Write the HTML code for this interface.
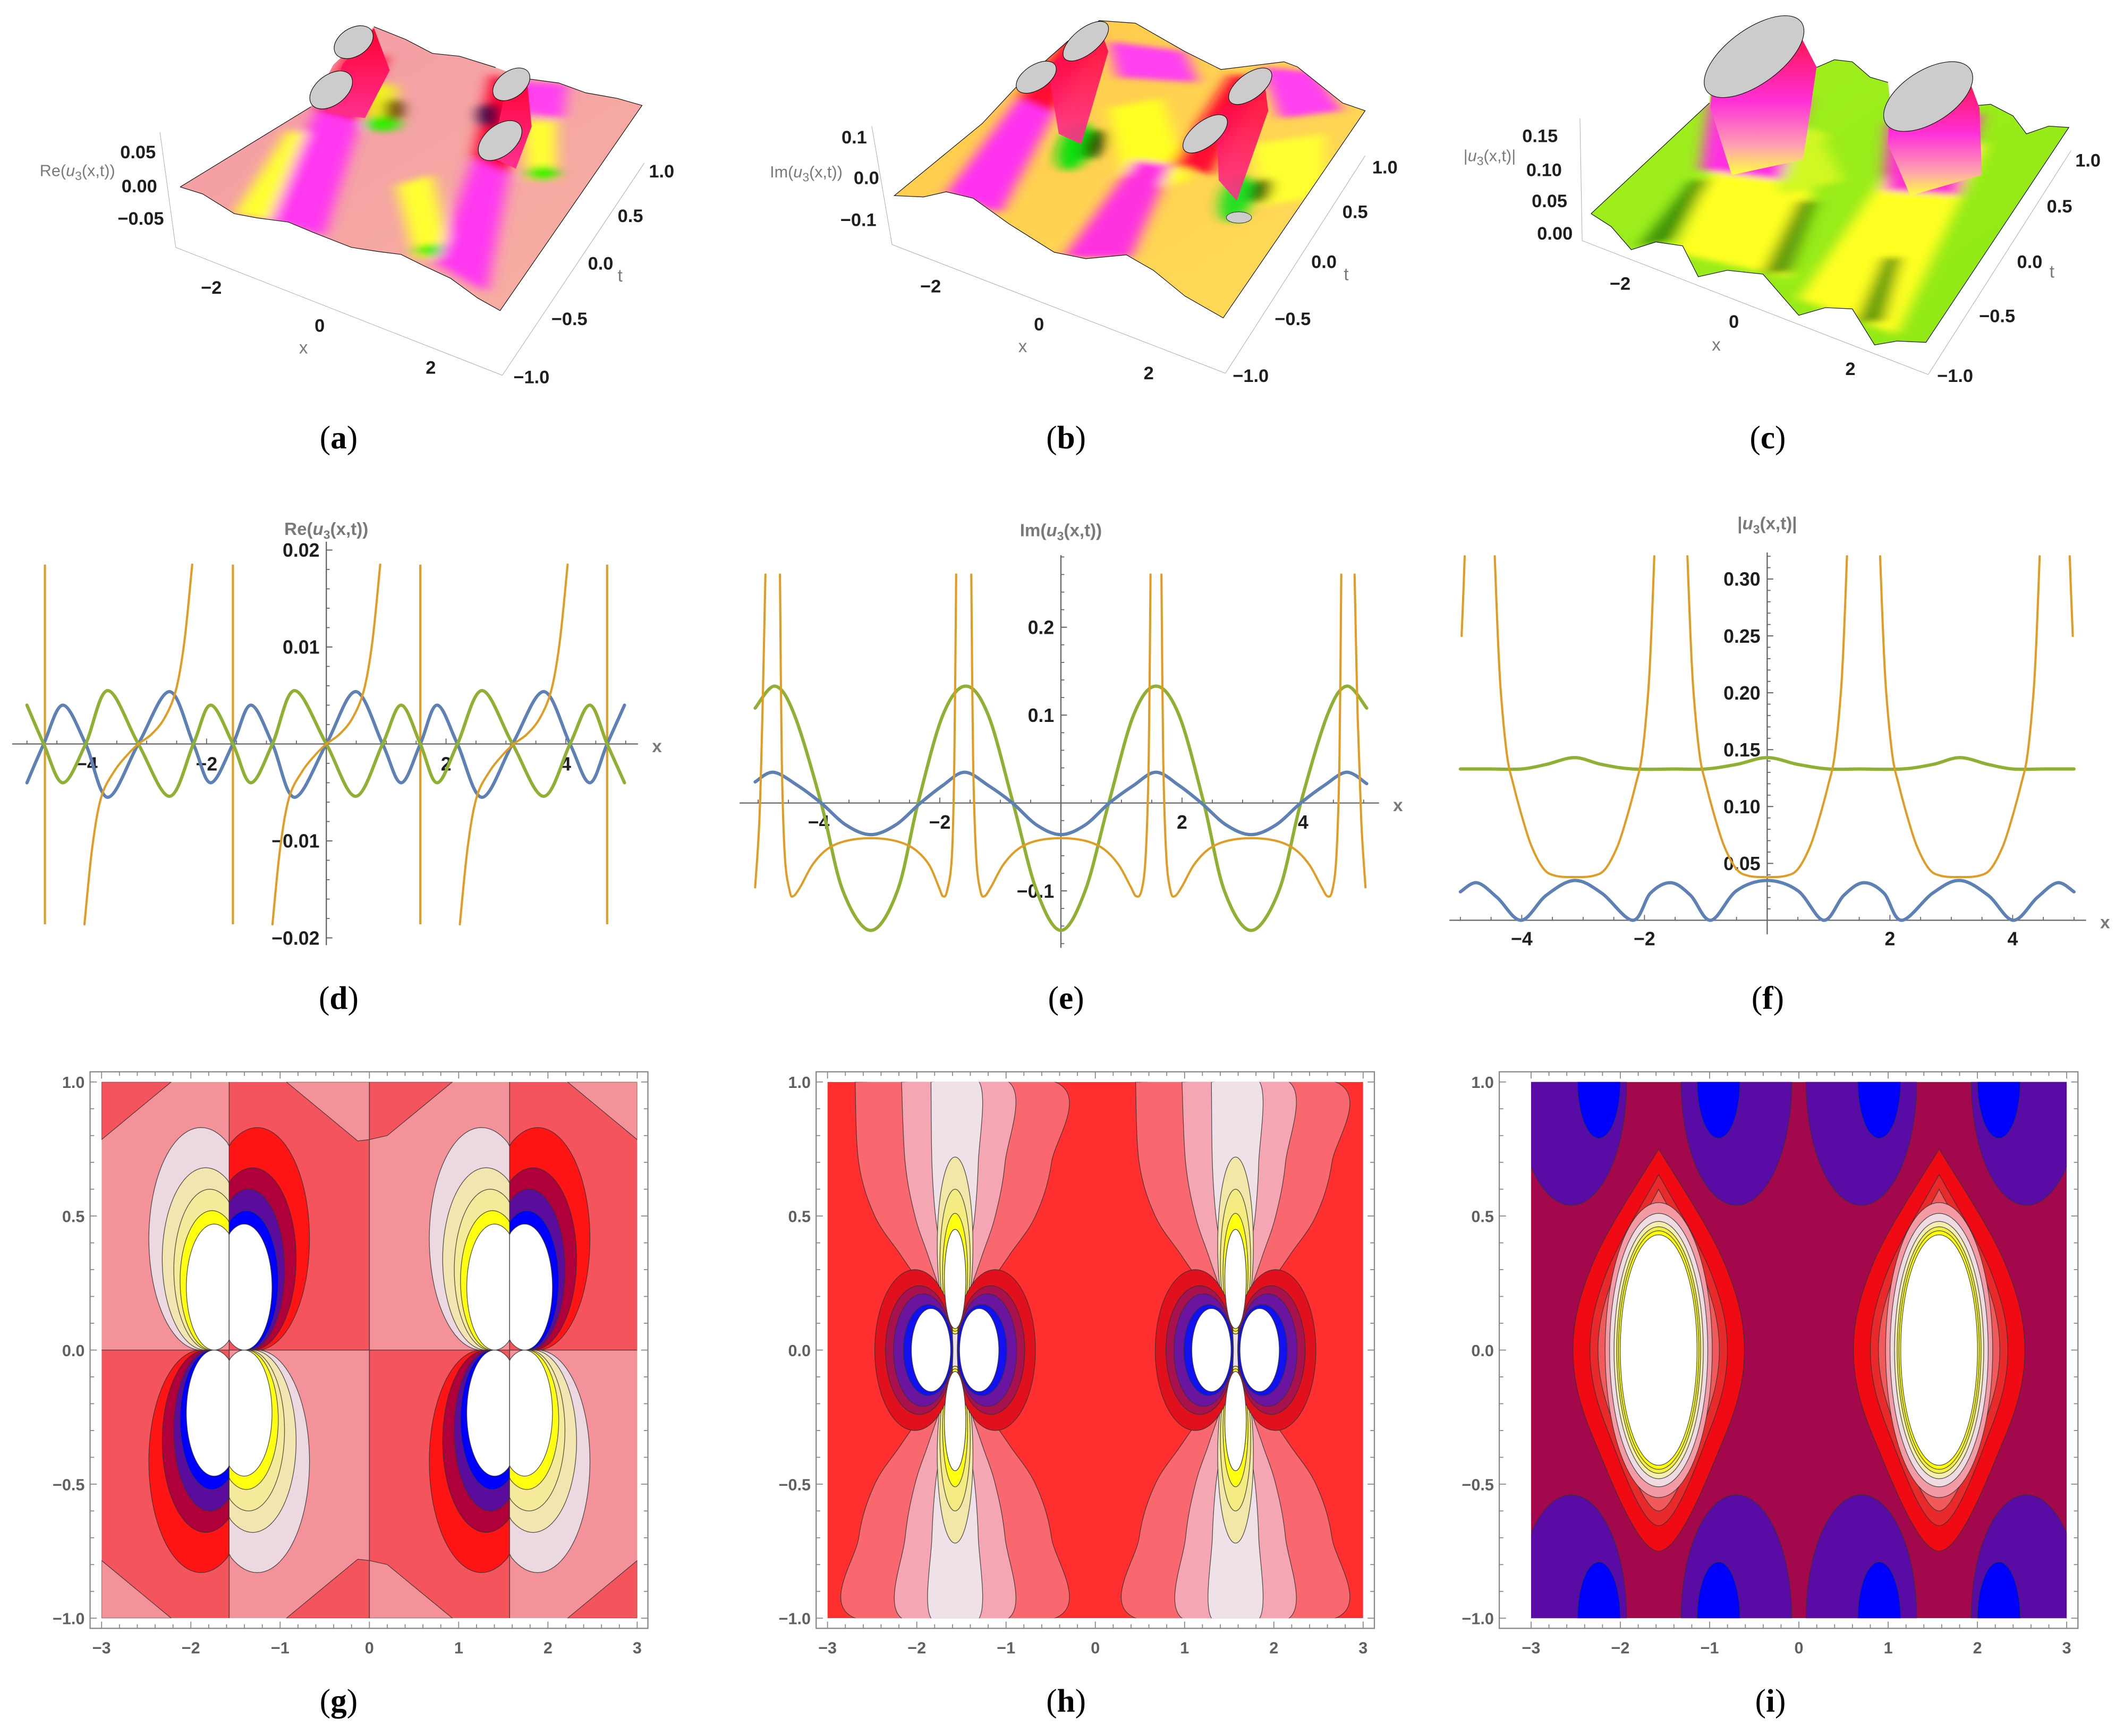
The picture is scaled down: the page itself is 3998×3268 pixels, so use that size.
<!DOCTYPE html>
<html><head><meta charset="utf-8"><title>u3 figure panels</title>
<style>
html,body{margin:0;padding:0;background:#fff;}
svg{display:block;}
text{font-family:"Liberation Sans",sans-serif;}
.lab{font-family:"Liberation Serif",serif;font-size:24px;}
.tk{font-size:14px;font-weight:bold;fill:#1e1e1e;}
.tk3{font-size:13.5px;font-weight:bold;fill:#1e1e1e;}
.ttl{font-size:13px;font-weight:bold;fill:#7a7a7a;}
.ctk{font-size:12px;font-weight:bold;fill:#606060;}
</style></head>
<body>
<svg id="fig" xmlns="http://www.w3.org/2000/svg" width="3998" height="3268" viewBox="0 0 1568 1282" preserveAspectRatio="none">
<rect x="0" y="0" width="1568" height="1282" fill="#ffffff"/>
<defs>
 <filter id="blur3d" x="-50%" y="-50%" width="200%" height="200%"><feGaussianBlur stdDeviation="16 11"/></filter>
 <clipPath id="clipA"><polygon points="400,665 450,690 520,760 570,775 640,790 700,830 780,880 840,895 890,905 940,945 1000,990 1060,1060 1110,1105 1425,375 1370,350 1300,330 1240,295 1170,280 1100,240 1020,200 960,190 900,140 830,95 740,230 690,380"/></clipPath>
 <clipPath id="clipB"><polygon points="405,760 470,765 520,745 580,770 660,870 760,980 830,1005 920,990 980,1050 1050,1150 1135,1235 1450,430 1400,400 1300,260 1270,240 1200,255 1130,270 1050,200 940,90 860,80 790,160 680,330 600,480"/></clipPath>
 <clipPath id="clipC"><polygon points="375,830 420,880 465,970 520,940 580,955 615,1075 680,1050 760,1065 840,1225 900,1195 960,1200 1010,1340 1060,1325 1125,1330 1445,495 1400,490 1350,520 1320,450 1270,405 1240,410 1215,450 1050,480 1040,320 1000,300 960,240 920,232 880,262 835,120 645,300 640,400"/></clipPath>
 <linearGradient id="gradA" x1="0" y1="0" x2="1" y2="1"><stop offset="0" stop-color="#f39aa6"/><stop offset="1" stop-color="#f7b0a0"/></linearGradient>
 <linearGradient id="gradB" x1="0" y1="0" x2="1" y2="1"><stop offset="0" stop-color="#ffc84a"/><stop offset="1" stop-color="#ffdc5a"/></linearGradient>
 <linearGradient id="gradC" x1="0" y1="0" x2="1" y2="1"><stop offset="0" stop-color="#a4f020"/><stop offset="1" stop-color="#8fe814"/></linearGradient>
 <linearGradient id="cylC" x1="0" y1="0" x2="0" y2="1"><stop offset="0" stop-color="#ff1040"/><stop offset="0.5" stop-color="#ff30d8"/><stop offset="0.8" stop-color="#ffa0b0"/><stop offset="1" stop-color="#ffff40"/></linearGradient>
 <linearGradient id="cylR" x1="0" y1="0" x2="0" y2="1"><stop offset="0" stop-color="#ff0030"/><stop offset="1" stop-color="#ff3090"/></linearGradient>
</defs>

<!-- Panel a -->
<g transform="translate(0,0) scale(0.3326,0.2076)">
 <g stroke="#aaaaaa" fill="none">
  <line x1="355" y1="470" x2="390" y2="880" vector-effect="non-scaling-stroke"/>
  <line x1="390" y1="880" x2="1115" y2="1335" vector-effect="non-scaling-stroke"/>
  <line x1="1115" y1="1335" x2="1430" y2="580" vector-effect="non-scaling-stroke"/>
 </g>
 <polygon points="400,665 450,690 520,760 570,775 640,790 700,830 780,880 840,895 890,905 940,945 1000,990 1060,1060 1110,1105 1425,375 1370,350 1300,330 1240,295 1170,280 1100,240 1020,200 960,190 900,140 830,95 740,230 690,380" fill="url(#gradA)"/>
 <g clip-path="url(#clipA)"><g filter="url(#blur3d)">
  <polygon points="520,760 600,785 690,480 640,460" fill="#ffff30"/>
  <polygon points="600,785 720,840 800,430 700,390" fill="#ff38f0"/>
  <polygon points="700,390 800,430 860,200 770,190" fill="#ff0030"/>
  <polygon points="810,300 880,300 880,450 820,450" fill="#f0f020"/>
  <ellipse cx="850" cy="440" rx="40" ry="28" fill="#30f000"/>
  <ellipse cx="875" cy="390" rx="20" ry="40" fill="#604000"/>
  <polygon points="880,660 960,620 1000,910 920,920" fill="#ffff30"/>
  <ellipse cx="960" cy="890" rx="40" ry="22" fill="#40f000"/>
  <polygon points="970,940 1080,1040 1130,620 1050,560" fill="#ff38f0"/>
  <polygon points="1050,560 1130,620 1160,310 1090,260" fill="#ff0030"/>
  <ellipse cx="1085" cy="410" rx="25" ry="45" fill="#400040"/>
  <polygon points="1160,430 1235,430 1235,640 1170,640" fill="#ffff30"/>
  <ellipse cx="1205" cy="615" rx="35" ry="25" fill="#30f000"/>
  <polygon points="1150,290 1260,300 1250,420 1160,400" fill="#ff40f0"/>
 </g></g>
 <polygon points="760,230 830,100 865,250 810,420 725,400" fill="url(#cylR)"/>
 <polygon points="1130,265 1170,290 1180,450 1145,600 1090,560" fill="url(#cylR)"/>
 <polyline points="400,665 450,690 520,760 570,775 640,790 700,830 780,880 840,895 890,905 940,945 1000,990 1060,1060 1110,1105 1425,375 1370,350 1300,330 1240,295 1170,280" fill="none" stroke="#111" stroke-width="1.2" vector-effect="non-scaling-stroke"/>
 <polyline points="1100,240 1020,200 960,190 900,140 830,95" fill="none" stroke="#111" stroke-width="1.2" vector-effect="non-scaling-stroke"/>
 <line x1="400" y1="665" x2="690" y2="380" stroke="#111" stroke-width="1.2" vector-effect="non-scaling-stroke"/>
 <g fill="#cccccc" stroke="#111">
  <ellipse cx="785" cy="150" rx="38" ry="62" transform="rotate(25 785 150)" vector-effect="non-scaling-stroke" stroke-width="1.2"/>
  <ellipse cx="735" cy="320" rx="40" ry="72" transform="rotate(25 735 320)" vector-effect="non-scaling-stroke" stroke-width="1.2"/>
  <ellipse cx="1135" cy="300" rx="35" ry="62" transform="rotate(25 1135 300)" vector-effect="non-scaling-stroke" stroke-width="1.2"/>
  <ellipse cx="1110" cy="500" rx="40" ry="76" transform="rotate(25 1110 500)" vector-effect="non-scaling-stroke" stroke-width="1.2"/>
 </g>
</g>
<g>
 <text class="tk3" x="115" y="117" text-anchor="end">0.05</text>
 <text class="tk3" x="116" y="142" text-anchor="end">0.00</text>
 <text class="tk3" x="121" y="166" text-anchor="end">−0.05</text>
 <text class="ttl" x="85" y="130" text-anchor="end" style="font-weight:normal;font-size:12px">Re(<tspan font-style="italic">u</tspan><tspan font-size="9" dy="3">3</tspan><tspan dy="-3">(x,t))</tspan></text>
 <text class="tk3" x="156" y="217" text-anchor="middle">−2</text>
 <text class="tk3" x="236" y="245" text-anchor="middle">0</text>
 <text class="tk3" x="318" y="276" text-anchor="middle">2</text>
 <text class="ttl" x="224" y="261" text-anchor="middle" style="font-weight:normal">x</text>
 <text class="tk3" x="479" y="131">1.0</text>
 <text class="tk3" x="456" y="164">0.5</text>
 <text class="tk3" x="434" y="199">0.0</text>
 <text class="ttl" x="456" y="208" style="font-weight:normal">t</text>
 <text class="tk3" x="407" y="240">−0.5</text>
 <text class="tk3" x="379" y="283">−1.0</text>
</g>

<!-- Panel b -->
<g transform="translate(525.5,0) scale(0.3326,0.1901)">
 <g stroke="#aaaaaa" fill="none">
  <line x1="355" y1="490" x2="400" y2="950" vector-effect="non-scaling-stroke"/>
  <line x1="400" y1="950" x2="1140" y2="1450" vector-effect="non-scaling-stroke"/>
  <line x1="1140" y1="1450" x2="1450" y2="605" vector-effect="non-scaling-stroke"/>
 </g>
 <polygon points="405,760 470,765 520,745 580,770 660,870 760,980 830,1005 920,990 980,1050 1050,1150 1135,1235 1450,430 1400,400 1300,260 1270,240 1200,255 1130,270 1050,200 940,90 860,80 790,160 680,330 600,480" fill="url(#gradB)"/>
 <g clip-path="url(#clipB)"><g filter="url(#blur3d)">
  <polygon points="520,750 640,830 760,440 680,380" fill="#ff30f0"/>
  <polygon points="680,380 760,440 860,120 790,130" fill="#ff1030"/>
  <polygon points="880,160 1050,200 1080,320 900,300" fill="#ff40f0"/>
  <polygon points="880,420 1000,380 1060,700 920,760" fill="#ffff20"/>
  <polygon points="780,1000 930,1000 1020,640 940,620" fill="#ff30e0"/>
  <polygon points="1020,640 1110,680 1220,300 1150,290" fill="#ff1030"/>
  <polygon points="1220,260 1340,280 1400,430 1260,460" fill="#ff40f0"/>
  <polygon points="1200,560 1360,520 1360,760 1220,800" fill="#ffff30"/>
  <ellipse cx="805" cy="570" rx="95" ry="36" fill="#10e010" transform="rotate(-80 805 570)"/>
  <ellipse cx="850" cy="560" rx="60" ry="20" fill="#204000" transform="rotate(-80 850 560)"/>
  <ellipse cx="1165" cy="770" rx="95" ry="36" fill="#20e020" transform="rotate(-80 1165 770)"/>
  <ellipse cx="1220" cy="740" rx="50" ry="20" fill="#205000" transform="rotate(-80 1220 740)"/>
 </g></g>
 <polygon points="745,260 860,100 880,200 820,560 770,520" fill="url(#cylR)" opacity="0.9"/>
 <polygon points="1120,440 1225,300 1235,430 1165,780 1125,700" fill="url(#cylR)" opacity="0.9"/>
 <polygon points="405,760 470,765 520,745 580,770 660,870 760,980 830,1005 920,990 980,1050 1050,1150 1135,1235 1450,430 1400,400 1300,260 1270,240 1200,255 1130,270 1050,200 940,90 860,80 790,160 680,330 600,480" fill="none" stroke="#111" stroke-width="1.2" vector-effect="non-scaling-stroke"/>
 <g fill="#cccccc" stroke="#111">
  <ellipse cx="830" cy="160" rx="35" ry="85" transform="rotate(28 830 160)" vector-effect="non-scaling-stroke" stroke-width="1.2"/>
  <ellipse cx="720" cy="300" rx="35" ry="68" transform="rotate(28 720 300)" vector-effect="non-scaling-stroke" stroke-width="1.2"/>
  <ellipse cx="1195" cy="335" rx="35" ry="78" transform="rotate(28 1195 335)" vector-effect="non-scaling-stroke" stroke-width="1.2"/>
  <ellipse cx="1095" cy="520" rx="35" ry="82" transform="rotate(28 1095 520)" vector-effect="non-scaling-stroke" stroke-width="1.2"/>
  <ellipse cx="1170" cy="845" rx="28" ry="22" vector-effect="non-scaling-stroke" stroke-width="0.8"/>
 </g>
</g>
<g>
 <text class="tk3" x="640" y="106" text-anchor="end">0.1</text>
 <text class="tk3" x="649" y="136" text-anchor="end">0.0</text>
 <text class="tk3" x="647" y="167" text-anchor="end">−0.1</text>
 <text class="ttl" x="622" y="131" text-anchor="end" style="font-weight:normal;font-size:12px">Im(<tspan font-style="italic">u</tspan><tspan font-size="9" dy="3">3</tspan><tspan dy="-3">(x,t))</tspan></text>
 <text class="tk3" x="687" y="216" text-anchor="middle">−2</text>
 <text class="tk3" x="767" y="244" text-anchor="middle">0</text>
 <text class="tk3" x="848" y="280" text-anchor="middle">2</text>
 <text class="ttl" x="755" y="260" text-anchor="middle" style="font-weight:normal">x</text>
 <text class="tk3" x="1013" y="128">1.0</text>
 <text class="tk3" x="991" y="161">0.5</text>
 <text class="tk3" x="968" y="198">0.0</text>
 <text class="ttl" x="992" y="207" style="font-weight:normal">t</text>
 <text class="tk3" x="941" y="240">−0.5</text>
 <text class="tk3" x="910" y="282">−1.0</text>
</g>

<!-- Panel c -->
<g transform="translate(1051,0) scale(0.3296,0.1901)">
 <g stroke="#aaaaaa" fill="none">
  <line x1="350" y1="460" x2="355" y2="935" vector-effect="non-scaling-stroke"/>
  <line x1="355" y1="935" x2="1130" y2="1455" vector-effect="non-scaling-stroke"/>
  <line x1="1130" y1="1455" x2="1450" y2="585" vector-effect="non-scaling-stroke"/>
 </g>
 <polygon points="375,830 420,880 465,970 520,940 580,955 615,1075 680,1050 760,1065 840,1225 900,1195 960,1200 1010,1340 1060,1325 1125,1330 1445,495 1400,490 1350,520 1320,450 1270,405 1240,410 1215,450 1050,480 1040,320 1000,300 960,240 920,232 880,262 835,120 645,300 640,400" fill="url(#gradC)"/>
 <g clip-path="url(#clipC)"><g filter="url(#blur3d)">
  <polygon points="560,980 820,1080 900,520 700,460" fill="#ffff20"/>
  <polygon points="840,1160 1060,1300 1260,560 1080,560" fill="#ffff20"/>
  <polygon points="760,520 880,500 940,700 800,760" fill="#d0f820"/>
  <polygon points="640,400 860,380 800,700 620,660" fill="#ff30e0"/>
  <polygon points="1040,480 1250,440 1200,760 1030,740" fill="#ff30d0"/>
  <polygon points="480,960 560,930 640,700 600,700" fill="#207000" opacity="0.7"/>
  <polygon points="760,1060 820,1060 880,780 840,780" fill="#207000" opacity="0.7"/>
  <polygon points="970,1250 1030,1250 1070,1000 1030,1000" fill="#207000" opacity="0.7"/>
 </g></g>
 <polyline points="375,830 420,880 465,970 520,940 580,955 615,1075 680,1050 760,1065 840,1225 900,1195 960,1200 1010,1340 1060,1325 1125,1330 1445,495 1400,490 1350,520 1320,450 1270,405 1240,410 1215,450" fill="none" stroke="#111" stroke-width="1.2" vector-effect="non-scaling-stroke"/>
 <polyline points="1040,320 1000,300 960,240 920,232 880,262" fill="none" stroke="#111" stroke-width="1.2" vector-effect="non-scaling-stroke"/>
 <line x1="375" y1="830" x2="640" y2="400" stroke="#111" stroke-width="1.2" vector-effect="non-scaling-stroke"/>
 <polygon points="648,300 642,420 690,680 850,620 880,260 835,110" fill="url(#cylC)"/>
 <polygon points="1043,430 1040,560 1090,760 1250,680 1245,420 1215,280" fill="url(#cylC)"/>
 <g fill="#cccccc" stroke="#111">
  <ellipse cx="740" cy="220" rx="78" ry="178" transform="rotate(30 740 220)" vector-effect="non-scaling-stroke" stroke-width="1.2"/>
  <ellipse cx="1130" cy="375" rx="76" ry="150" transform="rotate(30 1130 375)" vector-effect="non-scaling-stroke" stroke-width="1.2"/>
 </g>
</g>
<g>
 <text class="tk3" x="1150" y="105" text-anchor="end">0.15</text>
 <text class="tk3" x="1153" y="130" text-anchor="end">0.10</text>
 <text class="tk3" x="1157" y="153" text-anchor="end">0.05</text>
 <text class="tk3" x="1161" y="177" text-anchor="end">0.00</text>
 <text class="ttl" x="1119" y="119" text-anchor="end" style="font-weight:normal;font-size:12px">|<tspan font-style="italic">u</tspan><tspan font-size="9" dy="3">3</tspan><tspan dy="-3">(x,t)|</tspan></text>
 <text class="tk3" x="1196" y="214" text-anchor="middle">−2</text>
 <text class="tk3" x="1280" y="242" text-anchor="middle">0</text>
 <text class="tk3" x="1366" y="277" text-anchor="middle">2</text>
 <text class="ttl" x="1267" y="259" text-anchor="middle" style="font-weight:normal">x</text>
 <text class="tk3" x="1532" y="123">1.0</text>
 <text class="tk3" x="1511" y="157">0.5</text>
 <text class="tk3" x="1489" y="198">0.0</text>
 <text class="ttl" x="1513" y="205" style="font-weight:normal">t</text>
 <text class="tk3" x="1461" y="238">−0.5</text>
 <text class="tk3" x="1430" y="282">−1.0</text>
</g>

<!-- panel captions -->
<g>
 <text class="lab" x="250" y="331" text-anchor="middle">(<tspan font-weight="bold">a</tspan>)</text>
 <text class="lab" x="787" y="331" text-anchor="middle">(<tspan font-weight="bold">b</tspan>)</text>
 <text class="lab" x="1305" y="331" text-anchor="middle">(<tspan font-weight="bold">c</tspan>)</text>
 <text class="lab" x="250" y="745" text-anchor="middle">(<tspan font-weight="bold">d</tspan>)</text>
 <text class="lab" x="787" y="745" text-anchor="middle">(<tspan font-weight="bold">e</tspan>)</text>
 <text class="lab" x="1305" y="745" text-anchor="middle">(<tspan font-weight="bold">f</tspan>)</text>
 <text class="lab" x="250" y="1264" text-anchor="middle">(<tspan font-weight="bold">g</tspan>)</text>
 <text class="lab" x="787" y="1264" text-anchor="middle">(<tspan font-weight="bold">h</tspan>)</text>
 <text class="lab" x="1307" y="1264" text-anchor="middle">(<tspan font-weight="bold">i</tspan>)</text>
</g>
</svg>

<script>
// ===== Panel d data: Re(u3) =====
const dBlueX = [-5.0,-4.72,-4.4,-4.02,-3.65,-3.14,-2.62,-2.22,-1.93,-1.56,-1.26,-0.9,-0.53,0,0.49,0.94,1.25,1.57,1.85,2.19,2.6,3.11,3.63,4.07,4.4,4.69,4.98];
const dBlueY = [-0.004,0,0.004,0,-0.0055,0,0.0054,0,-0.004,0,0.004,0,-0.0055,0,0.0054,0,-0.004,0,0.004,0,-0.0055,0,0.0054,0,-0.004,0,0.004];
const dGreenX = [-5.0,-4.72,-4.4,-4.02,-3.65,-3.14,-2.62,-2.22,-1.93,-1.56,-1.26,-0.9,-0.53,0,0.49,0.94,1.25,1.57,1.85,2.19,2.6,3.11,3.63,4.07,4.4,4.69,4.98];
const dGreenY = [0.004,0,-0.004,0,0.0055,0,-0.0054,0,0.004,0,-0.004,0,0.0055,0,-0.0054,0,0.004,0,-0.004,0,0.0055,0,-0.0054,0,0.004,0,-0.004];
const dOrangeX = [-4.04,-3.91,-3.76,-3.54,-3.32,-3.14,-2.92,-2.7,-2.51,-2.37,-2.24,null,
                  -0.9,-0.77,-0.62,-0.4,-0.18,0,0.22,0.44,0.63,0.77,0.9,null,
                  2.23,2.36,2.51,2.73,2.95,3.13,3.35,3.57,3.76,3.9,4.03];
const dOrangeY = [-0.0186,-0.0107,-0.0055,-0.0028,-0.0011,0,0.001,0.0027,0.0056,0.0106,0.0185,null,
                  -0.0186,-0.0107,-0.0055,-0.0028,-0.0011,0,0.001,0.0027,0.0056,0.0106,0.0185,null,
                  -0.0186,-0.0107,-0.0055,-0.0028,-0.0011,0,0.001,0.0027,0.0056,0.0106,0.0185];
const dPoleX = [-4.7,-1.56,1.57,4.69];
const dPoleTop = 0.0185, dPoleBottom = -0.0186;
const dXTicks = [-4,-2,2,4];
const dXTickLabels = ['−4','−2','2','4'];
const dYTicks = [-0.02,-0.01,0.01,0.02];
const dYTickLabels = ['−0.02','−0.01','0.01','0.02'];

// ===== Panel e data: Im(u3) =====
const eBlueX = [-5.05,-4.75,-4.35,-3.96,-3.55,-3.14,-2.73,-2.32,-1.95,-1.59,-1.2,-0.8,-0.4,0,0.4,0.8,1.2,1.57,1.95,2.32,2.73,3.14,3.55,3.96,4.35,4.72,5.05];
const eBlueY = [0.024,0.035,0.02,0,-0.025,-0.036,-0.025,0,0.02,0.035,0.02,0,-0.025,-0.036,-0.025,0,0.02,0.035,0.02,0,-0.025,-0.036,-0.025,0,0.02,0.035,0.022];
const eGreenX = [-5.05,-4.72,-4.4,-3.96,-3.6,-3.14,-2.7,-2.36,-1.95,-1.57,-1.2,-0.79,-0.4,0,0.4,0.79,1.2,1.57,1.95,2.36,2.7,3.14,3.6,3.96,4.4,4.72,5.05];
const eGreenY = [0.108,0.133,0.1,0,-0.1,-0.145,-0.1,0,0.1,0.133,0.1,0,-0.1,-0.145,-0.1,0,0.1,0.133,0.1,0,-0.1,-0.145,-0.1,0,0.1,0.133,0.108];
const eOrangeX = [-5.05,-4.98,-4.93,-4.88,null,
  -4.64,-4.61,-4.56,-4.48,-4.42,-4.3,-4.1,-3.85,-3.54,-3.14,-2.74,-2.43,-2.18,-2.02,-1.95,-1.88,-1.8,-1.76,-1.73,null,
  -1.48,-1.45,-1.40,-1.33,-1.26,-1.15,-0.95,-0.7,-0.4,0,0.4,0.7,0.95,1.15,1.24,1.33,1.40,1.45,1.48,null,
  1.66,1.69,1.74,1.81,1.88,2.0,2.2,2.45,2.75,3.14,3.55,3.85,4.1,4.3,4.4,4.48,4.55,4.6,4.63,null,
  4.85,4.9,4.96,5.03];
const eOrangeY = [-0.096,-0.02,0.1,0.26,null,
  0.26,0.05,-0.06,-0.1,-0.106,-0.095,-0.07,-0.052,-0.043,-0.040,-0.043,-0.052,-0.07,-0.095,-0.106,-0.1,-0.06,0.05,0.26,null,
  0.26,0.05,-0.06,-0.1,-0.106,-0.095,-0.07,-0.052,-0.043,-0.040,-0.043,-0.052,-0.07,-0.095,-0.106,-0.1,-0.06,0.05,0.26,null,
  0.26,0.05,-0.06,-0.1,-0.106,-0.095,-0.07,-0.052,-0.043,-0.040,-0.043,-0.052,-0.07,-0.095,-0.106,-0.1,-0.06,0.05,0.26,null,
  0.26,0.1,-0.02,-0.096];
const eXTicks = [-4,-2,2,4];
const eXTickLabels = ['−4','−2','2','4'];
const eYTicks = [-0.1,0.1,0.2];
const eYTickLabels = ['−0.1','0.1','0.2'];

// ===== Panel f data: |u3| =====
const fBlueX = [-5,-4.73,-4.4,-4.01,-3.6,-3.14,-2.7,-2.19,-1.9,-1.57,-1.25,-0.92,-0.5,0,0.5,0.92,1.25,1.57,1.9,2.19,2.7,3.14,3.6,4.01,4.4,4.73,5];
const fBlueY = [0.025,0.033,0.02,0,0.022,0.035,0.024,0,0.024,0.033,0.022,0,0.026,0.035,0.026,0,0.022,0.033,0.024,0,0.024,0.035,0.022,0,0.02,0.033,0.025];
const fGreenX = [-5,-4.5,-4,-3.6,-3.14,-2.7,-2.2,-1.5,-1,-0.5,0,0.5,1,1.5,2.2,2.7,3.14,3.6,4,4.5,5];
const fGreenY = [0.133,0.133,0.133,0.137,0.143,0.137,0.133,0.133,0.133,0.137,0.143,0.137,0.133,0.133,0.133,0.137,0.143,0.137,0.133,0.133,0.133];
const fOrangeX = [-4.98,-4.95,-4.93,null,
  -4.44,-4.39,-4.34,-4.24,-4.14,-3.99,-3.84,-3.64,-3.44,-3.14,-2.84,-2.64,-2.44,-2.29,-2.14,-2.04,-1.94,-1.89,-1.84,null,
  -1.3,-1.25,-1.2,-1.1,-1.0,-0.85,-0.7,-0.5,-0.3,0,0.3,0.5,0.7,0.85,1.0,1.1,1.2,1.25,1.3,null,
  1.84,1.89,1.94,2.04,2.14,2.29,2.44,2.64,2.84,3.14,3.44,3.64,3.84,3.99,4.14,4.24,4.34,4.39,4.44,null,
  4.93,4.95,4.98];
const fOrangeY = [0.25,0.29,0.32,null,
  0.32,0.25,0.2,0.145,0.12,0.09,0.065,0.045,0.039,0.038,0.039,0.045,0.065,0.09,0.12,0.145,0.2,0.25,0.32,null,
  0.32,0.25,0.2,0.145,0.12,0.09,0.065,0.045,0.039,0.038,0.039,0.045,0.065,0.09,0.12,0.145,0.2,0.25,0.32,null,
  0.32,0.25,0.2,0.145,0.12,0.09,0.065,0.045,0.039,0.038,0.039,0.045,0.065,0.09,0.12,0.145,0.2,0.25,0.32,null,
  0.32,0.29,0.25];
const fXTicks = [-4,-2,2,4];
const fXTickLabels = ['−4','−2','2','4'];
const fYTicks = [0.05,0.10,0.15,0.20,0.25,0.30];
const fYTickLabels = ['0.05','0.10','0.15','0.20','0.25','0.30'];

// ===== Contour data =====
const poleX = [-1.5708, 1.5708];
const contourXTicks = [-3,-2,-1,0,1,2,3];
const contourXTickLabels = ['−3','−2','−1','0','1','2','3'];
const contourYTicks = [-1,-0.5,0,0.5,1];
const contourYTickLabels = ['−1.0','−0.5','0.0','0.5','1.0'];
const gLobeW = [0.9,0.75,0.62,0.55,0.48];
const gLobeH = [0.83,0.68,0.6,0.52,0.47];
const gBlueSide = ['#ff1414','#b0003c','#5c0c9c','#0000ff','#ffffff'];
const gYellowSide = ['#ecd8e1','#f2e5b0','#f4ea9a','#ffff10','#ffffff'];
const hBandT = [1,0.7,0.5,0.35,0.2,0.05];
const hSalmonW = [1.12,1.08,0.9,0.6,0.3,0.08];
const hPinkW = [0.6,0.56,0.45,0.3,0.15,0.05];
const hLavW = [0.27,0.26,0.22,0.15,0.08,0.03];
const hVLobeC = [0.39,0.33,0.29,0.265];
const hVLobeRy = [0.33,0.27,0.22,0.185];
const hVLobeRx = [0.2,0.17,0.14,0.12];
const hVLobeCol = ['#f2e6a8','#f4ec80','#ffff10','#ffffff'];
const hHLobeOff = [0.45,0.4,0.36,0.3,0.27];
const hHLobeRx = [0.45,0.38,0.33,0.28,0.22];
const hHLobeRy = [0.3,0.24,0.21,0.17,0.155];
const hHLobeCol = ['#e0101c','#a8104e','#6a14a0','#1010f0','#ffffff'];
const iBlobX = [-2.55,-0.7,0.7,2.55];
const iCoreX = [-2.24,-0.9,0.9,2.24];
const iShellW = [0.96,0.77,0.68,0.6,0.55,0.5,0.47,0.45,0.43];
const iShellH = [0.75,0.655,0.6,0.55,0.51,0.48,0.46,0.445,0.43];
const iShellCol = ['#f00a14','#e82a2a','#f05a5a','#f39aa4','#eedce2','#f4efb0','#f5f040','#ffff00','#ffffff'];

const NS = 'http://www.w3.org/2000/svg';
const fig = document.getElementById('fig');
function add(tag, parent){ const e = document.createElementNS(NS, tag); parent.appendChild(e); return e; }
function sty(e, o){ for (const k in o) e.setAttribute(k, o[k]); }
function crPath(p){
  if (p.length < 2) return '';
  let d = 'M' + p[0][0].toFixed(2) + ',' + p[0][1].toFixed(2);
  for (let i = 0; i < p.length - 1; i++){
    const p0 = p[i-1] || p[i], p1 = p[i], p2 = p[i+1], p3 = p[i+2] || p[i+1];
    const c1x = p1[0] + (p2[0]-p0[0])/6, c1y = p1[1] + (p2[1]-p0[1])/6;
    const c2x = p2[0] - (p3[0]-p1[0])/6, c2y = p2[1] - (p3[1]-p1[1])/6;
    d += 'C' + c1x.toFixed(2)+','+c1y.toFixed(2)+' '+c2x.toFixed(2)+','+c2y.toFixed(2)+' '+p2[0].toFixed(2)+','+p2[1].toFixed(2);
  }
  return d;
}
function drawCurve(g, xs, ys, sx, sy, color, w, name){
  const segs = []; let seg = [];
  for (let i = 0; i < xs.length; i++){
    if (xs[i] === null){ if (seg.length) segs.push(seg); seg = []; continue; }
    seg.push([sx(xs[i]), sy(ys[i])]);
  }
  if (seg.length) segs.push(seg);
  segs.forEach(s => {
    const p = add('path', g);
    sty(p, {d: crPath(s), fill:'none', stroke:color, 'stroke-width':w, 'stroke-linejoin':'round', 'stroke-linecap':'round'});
    
    
  });
}
function line(g, x1, y1, x2, y2, color, w){
  const l = add('line', g); sty(l, {x1, y1, x2, y2, stroke:color, 'stroke-width':w}); return l;
}
function txt(g, x, y, s, cls, anchor){
  const t = add('text', g); sty(t, {x, y, class:cls, 'text-anchor':anchor}); t.textContent = s; return t;
}
function title(g, x, y, pre, post){
  const t = add('text', g); sty(t, {x, y, class:'ttl', 'text-anchor':'middle'});
  const a = add('tspan', t); a.textContent = pre;
  const u = add('tspan', t); u.setAttribute('font-style','italic'); u.textContent = 'u';
  const s = add('tspan', t); sty(s, {'font-size':'9', dy:'3'}); s.textContent = '3';
  const b = add('tspan', t); b.setAttribute('dy','-3'); b.textContent = post;
  return t;
}

function linePanel(name, sx, sy, cfg){
  const g = add('g', fig);
  
  
  const ax = '#666';
  const xa = line(g, cfg.x0, sy(0), cfg.x1, sy(0), ax, 0.9);
  
  
  const ya = line(g, sx(0), cfg.y0, sx(0), cfg.y1, ax, 0.9);
  
  
  for (let v = -5; v <= 5.001; v += 0.5){
    const major = Math.abs(v - Math.round(v/2)*2) < 1e-6;
    line(g, sx(v), sy(0), sx(v), sy(0) - (major ? 4 : 2.5), ax, 0.7);
  }
  for (let v = cfg.ymMin; v <= cfg.ymMax + 1e-9; v += cfg.ymStep){
    line(g, sx(0), sy(v), sx(0) + 2.5, sy(v), ax, 0.7);
  }
  cfg.yt.forEach((v, i) => {
    line(g, sx(0), sy(v), sx(0) + 4.5, sy(v), ax, 0.8);
    const t = txt(g, sx(0) - 5, sy(v) + 5, cfg.ytl[i], 'tk', 'end');
    
    
  });
  cfg.xt.forEach((v, i) => {
    const t = txt(g, sx(v), cfg.xly, cfg.xtl[i], 'tk', 'middle');
    
    
  });
  const xl = txt(g, cfg.x1 + 14, sy(0) + 6, 'x', 'ttl', 'middle');
  
  
  const tt = title(g, sx(0), cfg.ty, cfg.pre, cfg.post);
  
  
  return g;
}

const sxD = v => 240.9 + v*44.2, syD = v => 549.4 - v*7160;
const gD = linePanel('panel-d-real-profile', sxD, syD, {x0:9, x1:471, y0:400, y1:698, ymMin:-0.02, ymMax:0.02, ymStep:0.002,
  yt:dYTicks, ytl:dYTickLabels, xt:dXTicks, xtl:dXTickLabels, xly:569, ty:395, pre:'Re(', post:'(x,t))'});
dPoleX.forEach(x => {
  const l = line(gD, sxD(x), syD(dPoleTop), sxD(x), syD(dPoleBottom), '#e19c24', 1.6);
  
  
});
drawCurve(gD, dBlueX, dBlueY, sxD, syD, '#5e81b5', 2.4, 'blue-series');
drawCurve(gD, dGreenX, dGreenY, sxD, syD, '#8fb032', 2.4, 'green-series');
drawCurve(gD, dOrangeX, dOrangeY, sxD, syD, '#e19c24', 1.6, 'orange-series');

const sxE = v => 783.2 + v*44.7, syE = v => 593 - v*649;
const gE = linePanel('panel-e-imag-profile', sxE, syE, {x0:546, x1:1018, y0:410, y1:700, ymMin:-0.16, ymMax:0.28, ymStep:0.02,
  yt:eYTicks, ytl:eYTickLabels, xt:eXTicks, xtl:eXTickLabels, xly:612, ty:396, pre:'Im(', post:'(x,t))'});
drawCurve(gE, eGreenX, eGreenY, sxE, syE, '#8fb032', 2.4, 'green-series');
drawCurve(gE, eBlueX, eBlueY, sxE, syE, '#5e81b5', 2.4, 'blue-series');
drawCurve(gE, eOrangeX, eOrangeY, sxE, syE, '#e19c24', 1.6, 'orange-series');

const sxF = v => 1304.6 + v*45.3, syF = v => 679.6 - v*840;
const gF = linePanel('panel-f-modulus-profile', sxF, syF, {x0:1070, x1:1540, y0:408, y1:690, ymMin:0.01, ymMax:0.32, ymStep:0.01,
  yt:fYTicks, ytl:fYTickLabels, xt:fXTicks, xtl:fXTickLabels, xly:698, ty:391, pre:'|', post:'(x,t)|'});
drawCurve(gF, fGreenX, fGreenY, sxF, syF, '#8fb032', 2.4, 'green-series');
drawCurve(gF, fBlueX, fBlueY, sxF, syF, '#5e81b5', 2.4, 'blue-series');
drawCurve(gF, fOrangeX, fOrangeY, sxF, syF, '#e19c24', 1.6, 'orange-series');

let clipId = 0;
function contourFrame(name, cx, fl, fr){
  const sx = v => cx + v*65.9, sy = t => 997 - t*198;
  const g = add('g', fig);
  
  
  const cp = add('clipPath', fig); const id = 'cclip' + (clipId++); cp.setAttribute('id', id);
  const cr = add('rect', cp); sty(cr, {x:sx(-3), y:sy(1), width:sx(3)-sx(-3), height:sy(-1)-sy(1)});
  const plot = add('g', g); plot.setAttribute('clip-path', 'url(#' + id + ')');
  
  
  return {g, plot, sx, sy, fl, fr};
}
function finishFrame(P){
  const {g, sx, sy, fl, fr} = P;
  const top = 791.5, bot = 1202.5, c = '#888';
  const fr_ = add('rect', g); sty(fr_, {x:fl, y:top, width:fr-fl, height:bot-top, fill:'none', stroke:c, 'stroke-width':0.9});
  
  
  for (let v = -3; v <= 3.001; v += 0.2){
    const major = Math.abs(v - Math.round(v)) < 1e-6;
    const L = major ? 5 : 3;
    line(g, sx(v), bot, sx(v), bot - L, c, 0.7);
    line(g, sx(v), top, sx(v), top + L, c, 0.7);
  }
  for (let t = -1; t <= 1.001; t += 0.1){
    const major = Math.abs(t*2 - Math.round(t*2)) < 1e-6;
    const L = major ? 5 : 3;
    line(g, fl, sy(t), fl + L, sy(t), c, 0.7);
    line(g, fr, sy(t), fr - L, sy(t), c, 0.7);
  }
  contourXTicks.forEach((v, i) => {
    const t = txt(g, sx(v), 1221, contourXTickLabels[i], 'ctk', 'middle');
    
    
  });
  contourYTicks.forEach((v, i) => {
    const t = txt(g, fl - 4, sy(v) + 4.5, contourYTickLabels[i], 'ctk', 'end');
    
    
  });
}
function ellPath(sx, sy, cx, ct, rx, ry, clampX, side, tMin, tMax){
  const pts = [];
  for (let k = 0; k < 96; k++){
    const th = 2*Math.PI*k/96;
    let x = cx + rx*Math.cos(th), t = ct + ry*Math.sin(th);
    if (side > 0) x = Math.max(x, clampX);
    if (side < 0) x = Math.min(x, clampX);
    if (tMin !== undefined) t = Math.max(t, tMin);
    if (tMax !== undefined) t = Math.min(t, tMax);
    pts.push(sx(x).toFixed(2) + ',' + sy(t).toFixed(2));
  }
  return 'M' + pts.join('L') + 'Z';
}
function shape(parent, d, fill, name){
  const p = add('path', parent);
  sty(p, {d, fill, stroke:'#333', 'stroke-width':0.5, 'stroke-opacity':0.85});
  
  
  return p;
}

(function(){
  const P = contourFrame('panel-g-real-contour', 272.7, 66.5, 478.3);
  const {plot, sx, sy} = P;
  const cols = ['#f4929a','#f4545c'];
  const xs = [-3, -1.5708, 0, 1.5708, 3];
  for (let q = 0; q < 4; q++){
    const up = add('rect', plot); sty(up, {x:sx(xs[q]), y:sy(1), width:sx(xs[q+1])-sx(xs[q]), height:sy(0)-sy(1), fill: cols[q%2]});
    
    
    const dn = add('rect', plot); sty(dn, {x:sx(xs[q]), y:sy(0), width:sx(xs[q+1])-sx(xs[q]), height:sy(-1)-sy(0), fill: cols[(q+1)%2]});
    
    
  }
  const corner = (pts, fill) => shape(plot, 'M' + pts.map(p => sx(p[0]).toFixed(2) + ',' + sy(p[1]).toFixed(2)).join('L') + 'Z', fill, 'corner-region');
  [1,-1].forEach(s => {
    const a = s > 0 ? cols[1] : cols[0], b = s > 0 ? cols[0] : cols[1];
    corner([[-3,0.785*s],[-2.22,1*s],[-3,1*s]], a);
    corner([[-0.93,1*s],[-0.13,0.78*s],[0,0.785*s],[0,1*s]], b);
    corner([[0,0.785*s],[0.2,0.8*s],[0.93,1*s],[0,1*s]], a);
    corner([[2.22,1*s],[3,0.785*s],[3,1*s]], b);
  });
  [-1.5708, 0, 1.5708].forEach(x => line(plot, sx(x), sy(1), sx(x), sy(-1), '#444', 0.6));
  line(plot, sx(-3), sy(0), sx(3), sy(0), '#444', 0.6);
  poleX.forEach(p => {
    [[-1, 1, gYellowSide], [1, 1, gBlueSide], [-1, -1, gBlueSide], [1, -1, gYellowSide]].forEach(q => {
      const side = q[0], sg = q[1], pal = q[2];
      for (let k = 0; k < gLobeW.length; k++){
        const w = gLobeW[k], h = gLobeH[k];
        const d = ellPath(sx, sy, p + side*w*0.35, sg*h*0.5, w*0.65, h*0.5, p, side);
        shape(plot, d, pal[k], 'contour-lobe');
      }
    });
  });
  finishFrame(P);
})();

(function(){
  const P = contourFrame('panel-h-imag-contour', 808.6, 602.5, 1014.6);
  const {plot, sx, sy} = P;
  const bg = add('rect', plot); sty(bg, {x:sx(-3), y:sy(1), width:sx(3)-sx(-3), height:sy(-1)-sy(1), fill:'#ff2f2f'});
  
  
  const hourglass = (p, W, fill) => {
    const left = [], right = [];
    for (let i = 0; i < hBandT.length; i++){ left.push([p - W[i], hBandT[i]]); right.push([p + W[i], hBandT[i]]); }
    const pts = [];
    left.forEach(a => pts.push(a));
    for (let i = left.length-1; i >= 0; i--) pts.push([left[i][0], -left[i][1]]);
    right.forEach(a => pts.push([a[0], -a[1]]));
    for (let i = right.length-1; i >= 0; i--) pts.push(right[i]);
    const scr = pts.map(a => [sx(a[0]), sy(a[1])]);
    scr.push(scr[0]);
    shape(plot, crPath(scr) + 'Z', fill, 'hourglass-band');
  };
  poleX.forEach(p => {
    hourglass(p, hSalmonW, '#f8686e');
    hourglass(p, hPinkW, '#f4a6b2');
    hourglass(p, hLavW, '#eee2e8');
    [1,-1].forEach(sg => {
      for (let k = 0; k < hVLobeC.length; k++){
        shape(plot, ellPath(sx, sy, p, sg*hVLobeC[k], hVLobeRx[k], hVLobeRy[k]), hVLobeCol[k], 'vertical-lobe');
      }
    });
    [-1,1].forEach(side => {
      for (let k = 0; k < hHLobeOff.length; k++){
        shape(plot, ellPath(sx, sy, p + side*hHLobeOff[k], 0, hHLobeRx[k], hHLobeRy[k], p + side*0.03, side), hHLobeCol[k], 'horizontal-lobe');
      }
    });
    [1,-1].forEach(sg => {
      shape(plot, ellPath(sx, sy, p, sg*hVLobeC[3], hVLobeRx[3], hVLobeRy[3]), '#ffffff', 'vertical-lobe-core');
    });
  });
  finishFrame(P);
})();

(function(){
  const P = contourFrame('panel-i-modulus-contour', 1328, 1106.8, 1534);
  const {plot, sx, sy} = P;
  const bg = add('rect', plot); sty(bg, {x:sx(-3), y:sy(1), width:sx(3)-sx(-3), height:sy(-1)-sy(1), fill:'#a3084c'});
  
  
  [1,-1].forEach(sg => {
    iBlobX.forEach(x => shape(plot, ellPath(sx, sy, x, sg*1.0, 0.62, 0.46), '#5a0aa5', 'purple-blob'));
    iCoreX.forEach(x => shape(plot, ellPath(sx, sy, x, sg*1.0, 0.24, 0.21), '#0000ff', 'blue-core'));
  });
  poleX.forEach(p => {
    for (let k = 0; k < iShellW.length; k++){
      const W = iShellW[k], H = iShellH[k];
      let d;
      if (k < 3){
        const pts = [[p, H],[p + W*0.75, H*0.45],[p + W, 0],[p + W*0.75, -H*0.45],[p, -H],[p - W*0.75, -H*0.45],[p - W, 0],[p - W*0.75, H*0.45],[p, H]];
        d = crPath(pts.map(a => [sx(a[0]), sy(a[1])])) + 'Z';
      } else {
        d = ellPath(sx, sy, p, 0, W, H);
      }
      shape(plot, d, iShellCol[k], 'modulus-shell');
    }
  });
  finishFrame(P);
})();
</script>
</body></html>
